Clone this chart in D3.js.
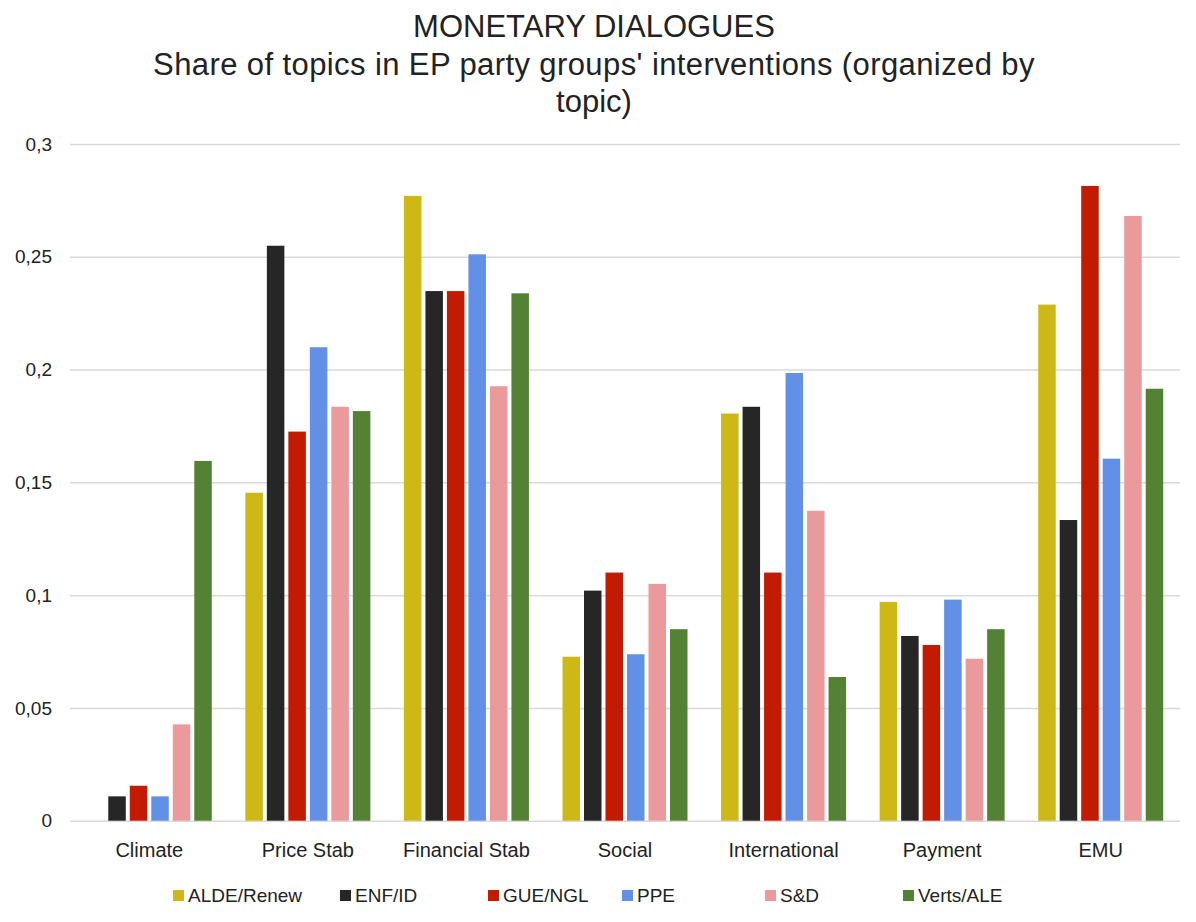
<!DOCTYPE html>
<html>
<head>
<meta charset="utf-8">
<script src="https://cdn.jsdelivr.net/npm/d3@7"></script>
<style>
  html, body { margin: 0; padding: 0; background: #fff; }
  svg { display: block; font-family: "Liberation Sans", Arial, Helvetica, sans-serif; }
</style>
</head>
<body>
<svg id="chart" width="1196" height="922"></svg>
<script>
// ---- Data ----
const titleLines = ["MONETARY DIALOGUES", "Share of topics in EP party groups' interventions (organized by", "topic)"];
const categories = ["Climate", "Price Stab", "Financial Stab", "Social", "International", "Payment", "EMU"];
const seriesNames = ["ALDE/Renew", "ENF/ID", "GUE/NGL", "PPE", "S&D", "Verts/ALE"];
const aldeRenew = [0,      0.1454, 0.2770, 0.0727, 0.1805, 0.0970, 0.2288];
const enfId     = [0.0108, 0.2549, 0.2348, 0.1020, 0.1835, 0.0819, 0.1333];
const gueNgl    = [0.0155, 0.1725, 0.2348, 0.1100, 0.1100, 0.0779, 0.2814];
const ppe       = [0.0108, 0.2099, 0.2511, 0.0738, 0.1985, 0.0980, 0.1605];
const sd        = [0.0427, 0.1835, 0.1926, 0.1050, 0.1374, 0.0718, 0.2681];
const vertsAle  = [0.1595, 0.1816, 0.2338, 0.0849, 0.0637, 0.0849, 0.1915];
const yTicks = [0, 0.05, 0.1, 0.15, 0.2, 0.25, 0.3];

// ---- Styles / layout ----
const colors = ["#CDB816", "#262626", "#C31B02", "#6290E6", "#EB9A9C", "#548235"];
const seriesValues = [aldeRenew, enfId, gueNgl, ppe, sd, vertsAle];
const plot = { left: 70, right: 1180, top: 144, bottom: 820.7 };
const legendX = [173, 340, 488, 622, 765, 903];
const textColor = "#222";

const svg = d3.select("#chart");

// Title
svg.append("g").selectAll("text")
  .data(titleLines)
  .join("text")
  .attr("x", 594)
  .attr("y", (d, i) => 37 + i * 37.5)
  .attr("text-anchor", "middle")
  .attr("font-size", 31)
  .attr("letter-spacing", (d, i) => i === 1 ? 0.4 : 0)
  .attr("fill", textColor)
  .text(d => d);

// Scales
const x0 = d3.scaleBand().domain(categories).range([plot.left, plot.right]).padding(0);
const groupW = 125;
const off = (x0.bandwidth() - groupW) / 2;
const x1 = d3.scaleBand().domain(seriesNames).range([off, off + groupW]).paddingInner(0.186).paddingOuter(0);
const y = d3.scaleLinear().domain([0, 0.3]).range([plot.bottom, plot.top]);

const locale = d3.formatLocale({ decimal: ",", thousands: ".", grouping: [3], currency: ["", "€"] });
const fmt = locale.format("~g");

// Y axis + gridlines
const yAxis = svg.append("g")
  .attr("transform", `translate(${plot.left},0)`)
  .call(d3.axisLeft(y).tickValues(yTicks).tickFormat(fmt)
    .tickSizeInner(-(plot.right - plot.left)).tickSizeOuter(0).tickPadding(18));
yAxis.select(".domain").remove();
yAxis.selectAll(".tick line").attr("stroke", "#d9d9d9").attr("stroke-width", 1.5);
yAxis.selectAll(".tick text")
  .attr("font-size", 19)
  .attr("font-family", "'Liberation Sans', Arial, sans-serif")
  .attr("fill", textColor);

// Bars
const flat = [];
categories.forEach((c, ci) => {
  seriesNames.forEach((s, si) => {
    flat.push({ cat: c, series: s, si: si, value: seriesValues[si][ci] });
  });
});
svg.append("g").selectAll("rect")
  .data(flat.filter(d => d.value > 0))
  .join("rect")
  .attr("x", d => x0(d.cat) + x1(d.series))
  .attr("y", d => y(d.value))
  .attr("width", x1.bandwidth())
  .attr("height", d => y(0) - y(d.value))
  .attr("fill", d => colors[d.si]);

// X axis labels
const xAxis = svg.append("g")
  .attr("transform", `translate(0,${plot.bottom})`)
  .call(d3.axisBottom(x0).tickSize(0).tickPadding(22));
xAxis.select(".domain").remove();
xAxis.selectAll(".tick text")
  .attr("font-size", 20)
  .attr("font-family", "'Liberation Sans', Arial, sans-serif")
  .attr("fill", textColor);

// Legend
const leg = svg.append("g").selectAll("g")
  .data(seriesNames)
  .join("g")
  .attr("transform", (d, i) => `translate(${legendX[i]},890)`);
leg.append("rect").attr("width", 11).attr("height", 11).attr("fill", (d, i) => colors[i]);
leg.append("text")
  .attr("x", 15).attr("y", 12)
  .attr("font-size", 19)
  .attr("fill", textColor)
  .text(d => d);
</script>
</body>
</html>
